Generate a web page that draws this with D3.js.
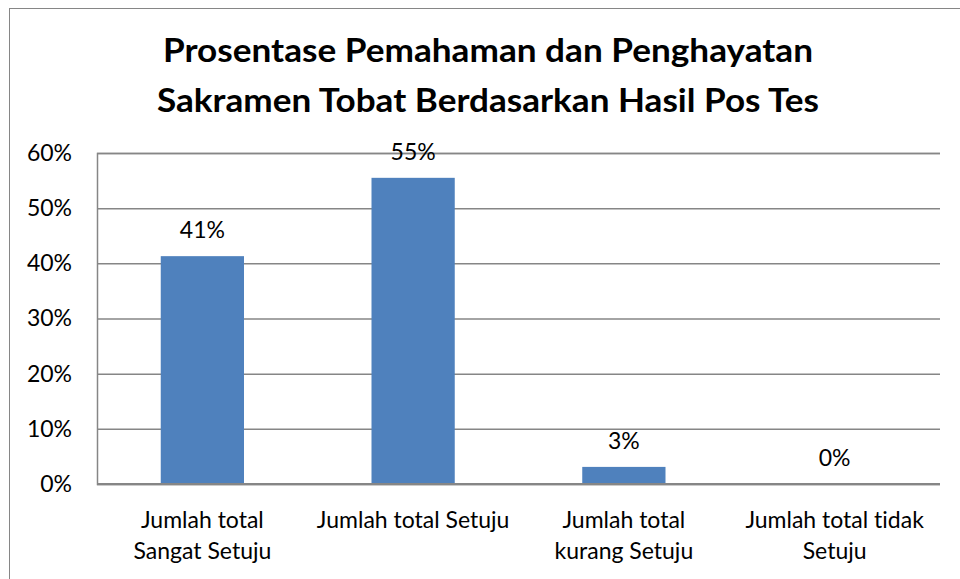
<!DOCTYPE html>
<html>
<head>
<meta charset="utf-8">
<script src="https://cdn.jsdelivr.net/npm/d3@7"></script>
<style>
  body { margin: 0; background: #fff; }
  svg { display: block; font-family: Lato, "Open Sans", sans-serif; font-variant-ligatures: none; }
</style>
</head>
<body>
<svg id="chart"></svg>
<script>
const categories = [
  ["Jumlah total", "Sangat Setuju"],
  ["Jumlah total Setuju"],
  ["Jumlah total", "kurang Setuju"],
  ["Jumlah total tidak", "Setuju"]
];
const values = [0.413, 0.555, 0.031, 0];
const valueLabels = ["41%", "55%", "3%", "0%"];
const yTicks = [0, 0.1, 0.2, 0.3, 0.4, 0.5, 0.6];
const titleLines = ["Prosentase Pemahaman dan Penghayatan", "Sakramen Tobat Berdasarkan Hasil Pos Tes"];
const titleWidths = [650, 662];

const width = 960, height = 579;
const margin = {left: 97, right: 20, top: 153, bottom: 95};

const svg = d3.select("#chart").attr("width", width).attr("height", height);

// outer frame
svg.append("rect")
  .attr("x", 9.5).attr("y", 8.5)
  .attr("width", width + 10).attr("height", height + 10)
  .attr("fill", "#fff").attr("stroke", "#868686").attr("stroke-width", 1);

const x = d3.scaleBand()
  .domain(d3.range(categories.length))
  .range([margin.left, width - margin.right])
  .paddingInner(0.605)
  .paddingOuter(0.3025);

const y = d3.scaleLinear()
  .domain([0, 0.6])
  .range([height - margin.bottom, margin.top]);

// title
svg.append("g").selectAll("text")
  .data(titleLines)
  .join("text")
  .attr("x", 488)
  .attr("y", (d, i) => 62 + i * 50)
  .attr("text-anchor", "middle")
  .attr("font-size", 32)
  .attr("font-weight", "bold")
  .attr("fill", "#000")
  .attr("textLength", (d, i) => titleWidths[i])
  .attr("lengthAdjust", "spacingAndGlyphs")
  .text(d => d);

// gridlines + y labels
const yAxis = svg.append("g")
  .attr("transform", `translate(${margin.left},0)`)
  .call(d3.axisLeft(y)
    .tickValues(yTicks)
    .tickFormat(d3.format(".0%"))
    .tickSize(-(width - margin.left - margin.right))
    .tickPadding(25))
  .call(g => g.select(".domain").attr("stroke", "#868686").attr("stroke-width", 1.5));

yAxis.selectAll(".tick line")
  .attr("stroke", "#868686")
  .attr("stroke-width", 1.5);
yAxis.selectAll(".tick text")
  .attr("font-size", 23)
  .attr("fill", "#000")
  .attr("font-family", "Lato, 'Open Sans', sans-serif");

// bars
svg.append("g").selectAll("rect")
  .data(values)
  .join("rect")
  .attr("x", (d, i) => x(i))
  .attr("y", d => y(d))
  .attr("width", x.bandwidth())
  .attr("height", d => y(0) - y(d))
  .attr("fill", "#4f81bd");

// baseline
svg.append("line")
  .attr("x1", margin.left).attr("x2", width - margin.right)
  .attr("y1", y(0)).attr("y2", y(0))
  .attr("stroke", "#868686").attr("stroke-width", 2);

// value labels
svg.append("g").selectAll("text")
  .data(values)
  .join("text")
  .attr("x", (d, i) => x(i) + x.bandwidth() / 2)
  .attr("y", d => y(d) - 26)
  .attr("dy", "0.35em")
  .attr("text-anchor", "middle")
  .attr("font-size", 23)
  .attr("fill", "#000")
  .text((d, i) => valueLabels[i]);

// category labels
const cat = svg.append("g").selectAll("text")
  .data(categories)
  .join("text")
  .attr("text-anchor", "middle")
  .attr("font-size", 23)
  .attr("fill", "#000");

cat.selectAll("tspan")
  .data((d, i) => d.map(t => ({t, i})))
  .join("tspan")
  .attr("x", d => x(d.i) + x.bandwidth() / 2)
  .attr("y", (d, j) => 528 + j * 31)
  .text(d => d.t);
</script>
</body>
</html>
